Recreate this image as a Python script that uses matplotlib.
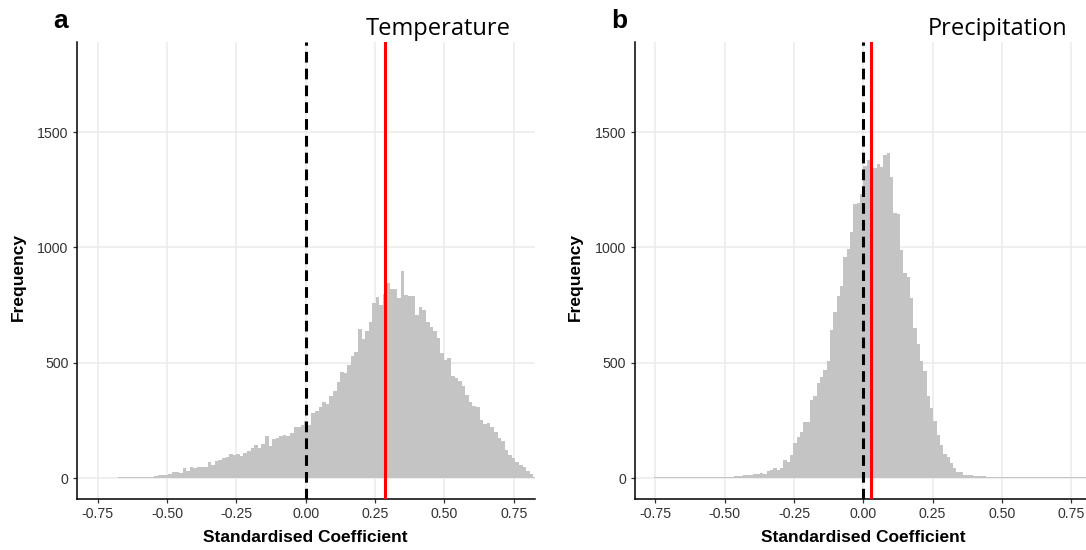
import numpy as np
import matplotlib
matplotlib.use("Agg")
import matplotlib.pyplot as plt

# ---------------- data ----------------
# Panel a: Temperature histogram (bin width ~0.0129, first bin edge at -0.6758)
temp_bin_start = -0.005 - 52 * 0.0129
temp_bin_width = 0.0129
temp_counts = [
    4, 4, 4, 4, 4, 4, 5, 5, 6, 7,
    8, 12, 12, 15, 20, 26, 29, 22, 43, 32,
    48, 46, 50, 48, 50, 72, 58, 75, 80, 88,
    90, 105, 100, 105, 96, 110, 120, 130, 143, 130,
    148, 181, 138, 169, 173, 181, 188, 181, 195, 224,
    220, 231, 246, 231, 282, 293, 310, 330, 320, 358,
    380, 415, 460, 455, 491, 528, 549, 646, 603, 639,
    679, 759, 785, 750, 800, 846, 820, 820, 780, 899,
    795, 788, 788, 708, 744, 730, 679, 655, 640, 607,
    542, 513, 520, 441, 434, 420, 398, 361, 330, 311,
    309, 253, 236, 238, 224, 200, 173, 163, 123, 101,
    87, 72, 58, 50, 30, 19, 7,
]
temp_observed = 0.286

# Panel b: Precipitation histogram (bin width 0.012, first bin edge at -0.756)
prec_bin_start = -63 * 0.012
prec_bin_width = 0.012
prec_counts = [
    4, 4, 4, 4, 4, 4, 4, 4, 4, 4,
    4, 4, 4, 4, 4, 4, 4, 4, 5, 5,
    5, 5, 6, 7, 8, 9, 10, 12, 14, 15,
    17, 18, 22, 20, 30, 37, 44, 35, 44, 77,
    69, 102, 152, 177, 199, 242, 245, 338, 355, 413,
    439, 470, 507, 644, 719, 789, 832, 960, 991, 1066,
    1186, 1193, 1230, 1352, 1379, 1383, 1346, 1360, 1350, 1400,
    1407, 1307, 1147, 1144, 988, 890, 873, 782, 650, 580,
    508, 463, 356, 303, 250, 189, 143, 105, 90, 67,
    44, 29, 25, 14, 12, 12, 10, 8, 8, 8,
    6, 5, 5, 4, 4, 4, 4, 4, 4, 4,
    4, 4, 4, 4, 4, 4, 4, 4, 4, 4,
    4, 4, 4, 4, 4, 4, 4, 4, 4, 4,
    4, 4,
]
prec_observed = 0.029

panel_titles = ["Temperature", "Precipitation"]
panel_letters = ["a", "b"]
x_ticks = [-0.75, -0.50, -0.25, 0.00, 0.25, 0.50, 0.75]
x_ticklabels = ["-0.75", "-0.50", "-0.25", "0.00", "0.25", "0.50", "0.75"]
y_ticks = [0, 500, 1000, 1500]
x_label = "Standardised Coefficient"
y_label = "Frequency"

# ---------------- figure ----------------
W, H = 1086, 550
fig = plt.figure(figsize=(W / 100, H / 100), dpi=100)

def px_axes(x0, x1, y_top, y_bot):
    return [x0 / W, 1 - y_bot / H, (x1 - x0) / W, (y_bot - y_top) / H]

axes_px = [(76.9, 534.5), (634.5, 1092.1)]
y_top, y_bot = 42, 499

panels = [
    (temp_bin_start, temp_bin_width, temp_counts, temp_observed),
    (prec_bin_start, prec_bin_width, prec_counts, prec_observed),
]

title_right = [511, 1067]
letter_x = [53, 611]
ylabel_x = [18, 575]

TICK_COL = "#333333"
for i, (start, width, counts, obs) in enumerate(panels):
    ax = fig.add_axes(px_axes(axes_px[i][0], axes_px[i][1], y_top, y_bot))
    edges = start + width * np.arange(len(counts) + 1)
    ax.stairs(counts, edges, fill=True, color="#C4C4C4", zorder=2, linewidth=0)
    ax.axvline(0.0, color="black", lw=2.2, linestyle=(0, (3.5, 2.0)),
               zorder=3, dash_capstyle="butt")
    ax.axvline(obs, color="#FF0000", lw=2.2, zorder=4)

    ax.set_xlim(-0.825, 0.825)
    ax.set_ylim(-90, 1890)
    ax.set_xticks(x_ticks)
    ax.set_xticklabels(x_ticklabels)
    ax.set_yticks(y_ticks)
    ax.grid(True, color="#EBEBEB", lw=1.1, zorder=0)
    ax.set_axisbelow(True)
    for s in ("top", "right"):
        ax.spines[s].set_visible(False)
    for s in ("left", "bottom"):
        ax.spines[s].set_color("black")
        ax.spines[s].set_linewidth(1.1)
    ax.tick_params(axis="both", direction="out", length=3, width=0.9,
                   color=TICK_COL, labelcolor=TICK_COL, labelsize=10.2)
    ax.tick_params(axis="x", pad=2.5)
    ax.tick_params(axis="y", pad=3)
    for lab in ax.get_xticklabels() + ax.get_yticklabels():
        lab.set_family("Liberation Sans")

    cx = axes_px[i][0] + (534.5 - 76.9) / 2
    fig.text(cx / W, 1 - 537 / H, x_label, ha="center", va="center",
             fontsize=12.5, fontweight="bold", family="Liberation Sans")
    fig.text(ylabel_x[i] / W, 1 - 277 / H, y_label, ha="center", va="center",
             rotation=90, fontsize=12.5, fontweight="bold", family="Liberation Sans")
    fig.text(title_right[i] / W, 1 - 35 / H, panel_titles[i], ha="right",
             va="baseline", fontsize=17, family="Open Sans")
    fig.text(letter_x[i] / W, 1 - 28 / H, panel_letters[i], ha="left",
             va="baseline", fontsize=19, fontweight="bold", family="Liberation Sans")

fig.savefig("out.png", dpi=100)
